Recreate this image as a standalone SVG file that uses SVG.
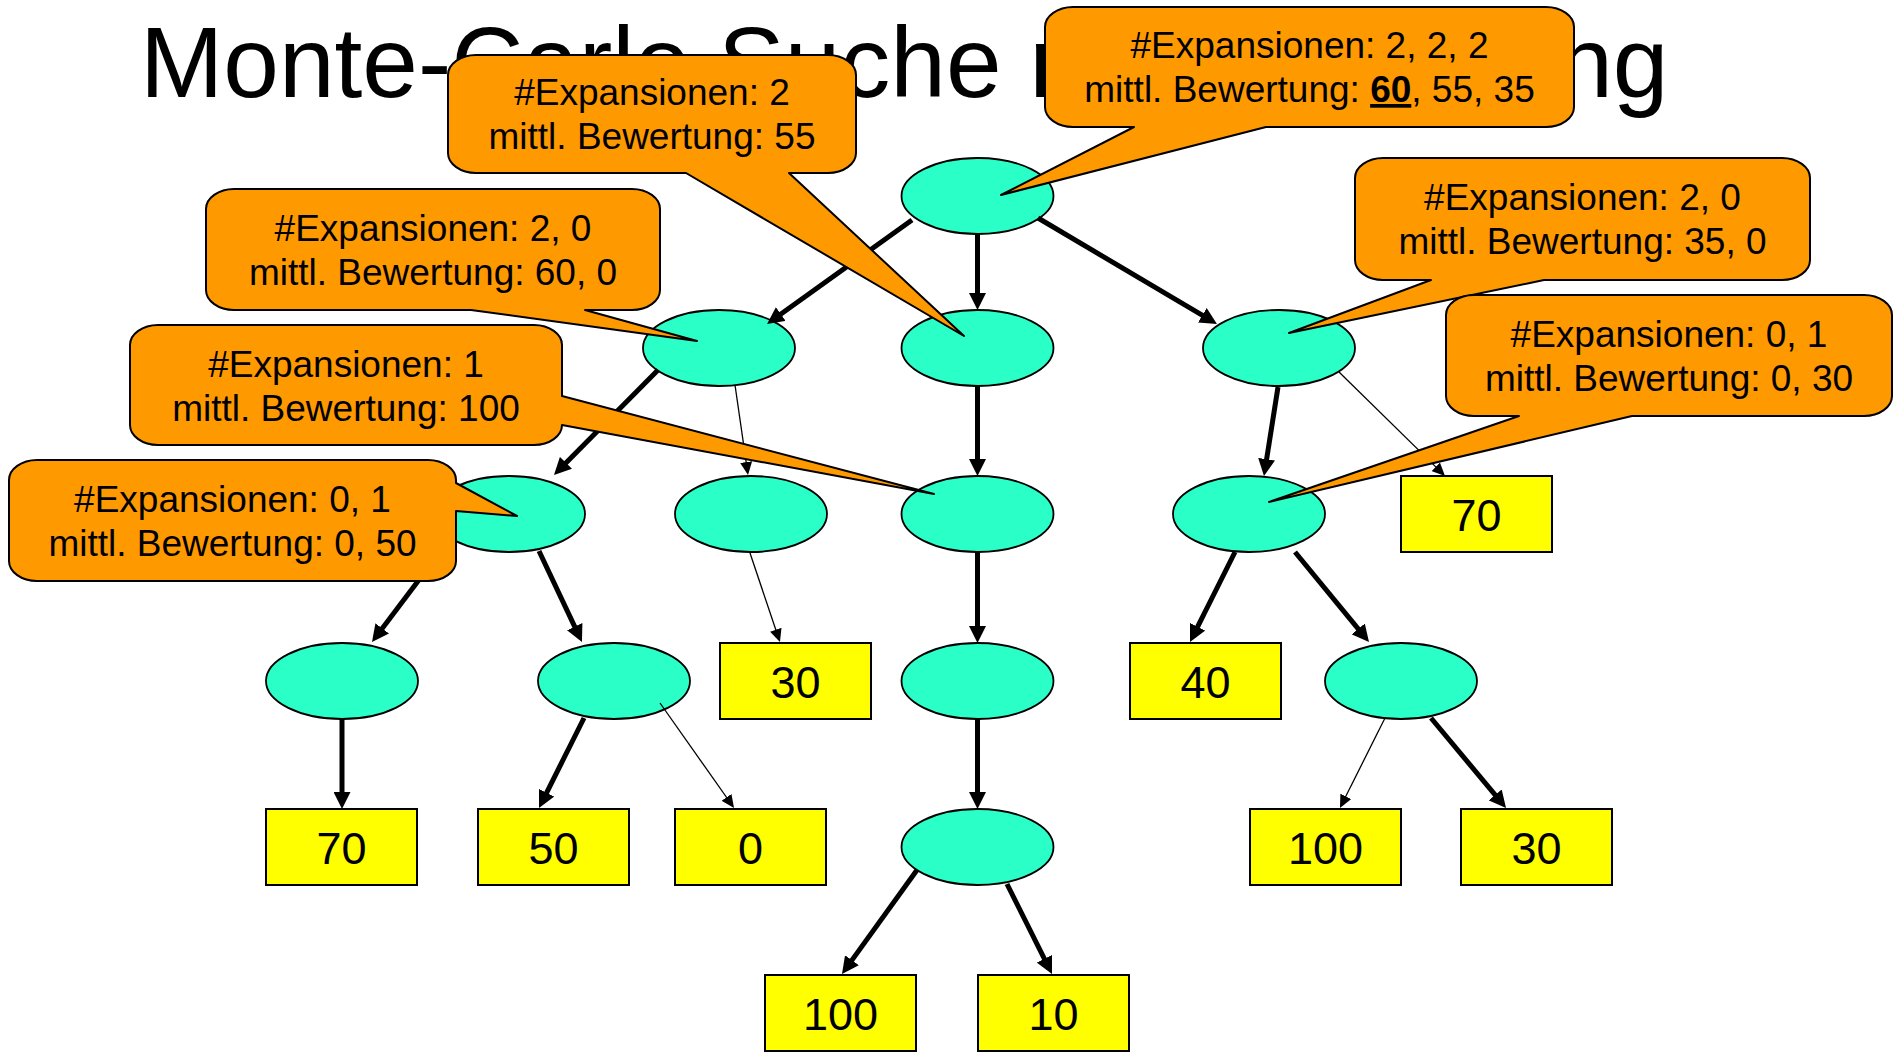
<svg xmlns="http://www.w3.org/2000/svg" width="1896" height="1052" viewBox="0 0 1896 1052">
  <defs>
    <style>
      .title { font-family: "Liberation Sans", Arial, sans-serif; font-size: 100px; fill: #000; }
      .state { fill: #2BFFC8; stroke: #000; stroke-width: 1.8; }
      .leaf { fill: #FFFF00; stroke: #000; stroke-width: 2; }
      .val { font-family: "Liberation Sans", Arial, sans-serif; font-size: 45px; fill: #000; text-anchor: middle; }
      .edge { fill: none; stroke: #000; stroke-linecap: butt; }
      .bold { stroke-width: 5; marker-end: url(#headBold); }
      .thin { stroke-width: 1.3; marker-end: url(#headThin); }
      .note { fill: #FF9900; stroke: #000; stroke-width: 2; stroke-linejoin: round; }
      .noteText { font-family: "Liberation Sans", Arial, sans-serif; font-size: 37px; fill: #000; text-anchor: middle; }
    </style>
    <marker id="headBold" markerUnits="userSpaceOnUse" markerWidth="17" markerHeight="17" refX="11" refY="8.5" orient="auto">
      <path d="M0,0 L17,8.5 L0,17 Z" fill="#000"/>
    </marker>
    <marker id="headThin" markerUnits="userSpaceOnUse" markerWidth="13" markerHeight="12" refX="10" refY="6" orient="auto">
      <path d="M0,0 L13,6 L0,12 Z" fill="#000"/>
    </marker>
  </defs>

  <rect width="1896" height="1052" fill="#fff"/>

  <!-- slide title -->
  <text class="title" x="140" y="97">Monte-Carlo Suche mit Bewertung</text>

  <!-- inner search states -->
  <g id="n_root"><ellipse class="state" cx="977.5" cy="196" rx="76" ry="38"/></g>
  <g id="n_L"><ellipse class="state" cx="719" cy="348" rx="76" ry="38"/></g>
  <g id="n_M"><ellipse class="state" cx="977.5" cy="348" rx="76" ry="38"/></g>
  <g id="n_R"><ellipse class="state" cx="1279" cy="348" rx="76" ry="38"/></g>
  <g id="n_LL"><ellipse class="state" cx="509" cy="514" rx="76" ry="38"/></g>
  <g id="n_LR"><ellipse class="state" cx="751" cy="514" rx="76" ry="38"/></g>
  <g id="n_M3"><ellipse class="state" cx="977.5" cy="514" rx="76" ry="38"/></g>
  <g id="n_R3"><ellipse class="state" cx="1249" cy="514" rx="76" ry="38"/></g>
  <g id="n_LLL"><ellipse class="state" cx="342" cy="681" rx="76" ry="38"/></g>
  <g id="n_LLR"><ellipse class="state" cx="614" cy="681" rx="76" ry="38"/></g>
  <g id="n_M4"><ellipse class="state" cx="977.5" cy="681" rx="76" ry="38"/></g>
  <g id="n_R4"><ellipse class="state" cx="1401" cy="681" rx="76" ry="38"/></g>
  <g id="n_M5"><ellipse class="state" cx="977.5" cy="847" rx="76" ry="38"/></g>

  <!-- terminal values -->
  <g id="t_70a"><rect class="leaf" x="1401" y="476" width="151" height="76"/><text class="val" x="1476.5" y="531">70</text></g>
  <g id="t_30a"><rect class="leaf" x="720" y="643" width="151" height="76"/><text class="val" x="795.5" y="698">30</text></g>
  <g id="t_40"><rect class="leaf" x="1130" y="643" width="151" height="76"/><text class="val" x="1205.5" y="698">40</text></g>
  <g id="t_70b"><rect class="leaf" x="266" y="809" width="151" height="76"/><text class="val" x="341.5" y="864">70</text></g>
  <g id="t_50"><rect class="leaf" x="478" y="809" width="151" height="76"/><text class="val" x="553.5" y="864">50</text></g>
  <g id="t_0"><rect class="leaf" x="675" y="809" width="151" height="76"/><text class="val" x="750.5" y="864">0</text></g>
  <g id="t_100a"><rect class="leaf" x="1250" y="809" width="151" height="76"/><text class="val" x="1325.5" y="864">100</text></g>
  <g id="t_30b"><rect class="leaf" x="1461" y="809" width="151" height="76"/><text class="val" x="1536.5" y="864">30</text></g>
  <g id="t_100b"><rect class="leaf" x="765" y="975" width="151" height="76"/><text class="val" x="840.5" y="1030">100</text></g>
  <g id="t_10"><rect class="leaf" x="978" y="975" width="151" height="76"/><text class="val" x="1053.5" y="1030">10</text></g>

  <!-- tree edges: bold = explored path, thin = single playout -->
  <g id="connectors">
    <line class="edge bold" x1="912" y1="220" x2="771.9" y2="320.5"/>
    <line class="edge bold" x1="977.5" y1="234" x2="977.5" y2="304"/>
    <line class="edge bold" x1="1038" y1="218" x2="1211.8" y2="320.9"/>
    <line class="edge bold" x1="658" y1="370" x2="558.2" y2="470.7"/>
    <line class="edge bold" x1="977.5" y1="386" x2="977.5" y2="470"/>
    <line class="edge bold" x1="1278" y1="387" x2="1264.9" y2="470.1"/>
    <line class="edge bold" x1="443" y1="548" x2="375.6" y2="637.2"/>
    <line class="edge bold" x1="539" y1="551" x2="579.4" y2="636.6"/>
    <line class="edge bold" x1="977.5" y1="552" x2="977.5" y2="637"/>
    <line class="edge bold" x1="1235" y1="552" x2="1192.7" y2="636.6"/>
    <line class="edge bold" x1="1295" y1="552" x2="1365.2" y2="637.4"/>
    <line class="edge bold" x1="342" y1="719" x2="342" y2="803"/>
    <line class="edge bold" x1="584" y1="718" x2="541.7" y2="802.6"/>
    <line class="edge bold" x1="977.5" y1="719" x2="977.5" y2="803"/>
    <line class="edge bold" x1="1431" y1="718" x2="1502.2" y2="803.4"/>
    <line class="edge bold" x1="917" y1="870" x2="845.5" y2="969.1"/>
    <line class="edge bold" x1="1007" y1="884" x2="1049.3" y2="968.6"/>
    <line class="edge thin" x1="735" y1="385" x2="747.6" y2="472"/>
    <line class="edge thin" x1="1339" y1="372" x2="1442.9" y2="473.9"/>
    <line class="edge thin" x1="750" y1="553" x2="779" y2="639.2"/>
    <line class="edge thin" x1="660" y1="703" x2="732.3" y2="805.5"/>
    <line class="edge thin" x1="1385" y1="718" x2="1341.3" y2="805.3"/>
  </g>

  <!-- statistics callouts -->
  <g id="c_root">
    <path class="note" d="M1073,7 H1546 A28,20 0 0 1 1574,27 V107 A28,20 0 0 1 1546,127 H1266 L1001,195 L1134,127 H1073 A28,20 0 0 1 1045,107 V27 A28,20 0 0 1 1073,7 Z"/>
    <text class="noteText" x="1309.5" y="58">#Expansionen: 2, 2, 2</text>
    <text class="noteText" x="1309.5" y="102">mittl. Bewertung: <tspan font-weight="bold" text-decoration="underline">60</tspan>, 55, 35</text>
  </g>
  <g id="c_M">
    <path class="note" d="M476,55 H828 A28,20 0 0 1 856,75 V153 A28,20 0 0 1 828,173 H789 L964,336 L686,173 H476 A28,20 0 0 1 448,153 V75 A28,20 0 0 1 476,55 Z"/>
    <text class="noteText" x="652" y="105">#Expansionen: 2</text>
    <text class="noteText" x="652" y="149">mittl. Bewertung: 55</text>
  </g>
  <g id="c_L">
    <path class="note" d="M234,189 H632 A28,20 0 0 1 660,209 V290 A28,20 0 0 1 632,310 H585 L697,341 L471,310 H234 A28,20 0 0 1 206,290 V209 A28,20 0 0 1 234,189 Z"/>
    <text class="noteText" x="433" y="241">#Expansionen: 2, 0</text>
    <text class="noteText" x="433" y="285">mittl. Bewertung: 60, 0</text>
  </g>
  <g id="c_M3">
    <path class="note" d="M158,325 H534 A28,20 0 0 1 562,345 V396 L934,494 L562,425 A28,20 0 0 1 534,445 H158 A28,20 0 0 1 130,425 V345 A28,20 0 0 1 158,325 Z"/>
    <text class="noteText" x="346" y="377">#Expansionen: 1</text>
    <text class="noteText" x="346" y="421">mittl. Bewertung: 100</text>
  </g>
  <g id="c_LL">
    <path class="note" d="M37,460 H428 A28,20 0 0 1 456,480 V483 L517,516 L456,511 V561 A28,20 0 0 1 428,581 H37 A28,20 0 0 1 9,561 V480 A28,20 0 0 1 37,460 Z"/>
    <text class="noteText" x="232.5" y="512">#Expansionen: 0, 1</text>
    <text class="noteText" x="232.5" y="556">mittl. Bewertung: 0, 50</text>
  </g>
  <g id="c_R">
    <path class="note" d="M1383,158 H1782 A28,20 0 0 1 1810,178 V260 A28,20 0 0 1 1782,280 H1544 L1289,333 L1431,280 H1383 A28,20 0 0 1 1355,260 V178 A28,20 0 0 1 1383,158 Z"/>
    <text class="noteText" x="1582.5" y="210">#Expansionen: 2, 0</text>
    <text class="noteText" x="1582.5" y="254">mittl. Bewertung: 35, 0</text>
  </g>
  <g id="c_R3">
    <path class="note" d="M1474,295 H1864 A28,20 0 0 1 1892,315 V396 A28,20 0 0 1 1864,416 H1632 L1269,502 L1519,416 H1474 A28,20 0 0 1 1446,396 V315 A28,20 0 0 1 1474,295 Z"/>
    <text class="noteText" x="1669" y="347">#Expansionen: 0, 1</text>
    <text class="noteText" x="1669" y="391">mittl. Bewertung: 0, 30</text>
  </g>
</svg>
